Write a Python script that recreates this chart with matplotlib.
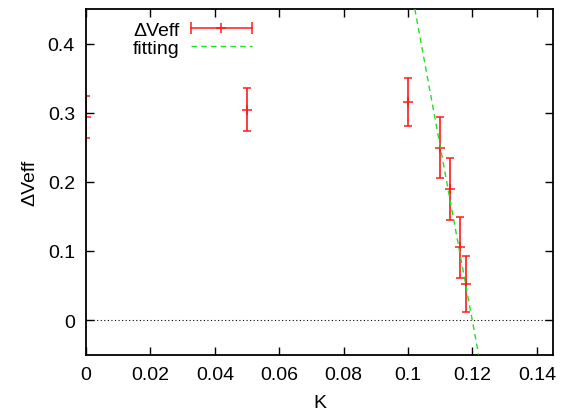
import matplotlib
matplotlib.use("Agg")
import matplotlib.pyplot as plt
from matplotlib.lines import Line2D
from matplotlib.legend_handler import HandlerLine2D
from matplotlib.ticker import FuncFormatter

# measured points (K, dVeff, error)
k_vals = [0.0, 0.05, 0.10, 0.110, 0.113, 0.116, 0.118]
dveff = [0.294, 0.304, 0.315, 0.249, 0.190, 0.105, 0.052]
dveff_err = [0.030, 0.031, 0.035, 0.044, 0.045, 0.044, 0.040]

# linear fit, read at the two edges of the frame
fit_k = [0.1021, 0.1219]
fit_dv = [0.45, -0.05]

plt.rcParams['font.family'] = ['Liberation Sans', 'DejaVu Sans']
plt.rcParams['font.size'] = 14

fig = plt.figure(figsize=(5.66, 4.14), dpi=100)
ax = fig.add_axes([0.152, 0.141, 0.825, 0.835])

red = '#ff1a1a'
green = '#22e022'

ax.axhline(0, color='black', lw=0.8, ls=(0, (1, 2.2)), zorder=1)
ax.plot(fit_k, fit_dv, color=green, lw=1.0, ls=(0, (4, 3)), zorder=3)
ax.errorbar(k_vals, dveff, yerr=dveff_err, fmt='+', color=red, ecolor=red,
            elinewidth=1.2, capsize=3.2, capthick=1.1, markersize=7,
            markeredgewidth=1.1, zorder=2)

ax.set_xlim(0, 0.145)
ax.set_ylim(-0.05, 0.45)
ax.set_xticks([0, 0.02, 0.04, 0.06, 0.08, 0.1, 0.12, 0.14])
ax.set_yticks([0, 0.1, 0.2, 0.3, 0.4])
fmt = FuncFormatter(lambda v, p: '%g' % round(v, 4))
ax.xaxis.set_major_formatter(fmt)
ax.yaxis.set_major_formatter(fmt)
ax.tick_params(direction='in', length=6, width=1.0, top=True, right=True,
               pad=8)
for s in ax.spines.values():
    s.set_linewidth(1.3)

ax.set_xlabel('K', labelpad=8)
ax.set_ylabel('\u0394Veff', labelpad=7)

# legend in gnuplot style: text first, sample to the right
bar_h = Line2D([], [], color=red, lw=1.1, marker='|', markersize=9,
               markeredgewidth=1.1)
plus_h = Line2D([], [], color=red, lw=0, marker='+', markersize=7,
                markeredgewidth=1.1)
fit_h = Line2D([], [], color=green, lw=1.0, ls=(0, (4, 3)))
hmap = {bar_h: HandlerLine2D(numpoints=2, marker_pad=0),
        plus_h: HandlerLine2D(numpoints=1),
        fit_h: HandlerLine2D(numpoints=2, marker_pad=0)}
ax.legend([(bar_h, plus_h), fit_h], ['\u0394Veff', 'fitting'],
          handler_map=hmap, markerfirst=False, frameon=False,
          loc='upper left', bbox_to_anchor=(0.067, 1.01),
          handlelength=3.1, handletextpad=0.6, labelspacing=0.05,
          borderpad=0.3, fontsize=14)

fig.savefig('out.png', dpi=100)
